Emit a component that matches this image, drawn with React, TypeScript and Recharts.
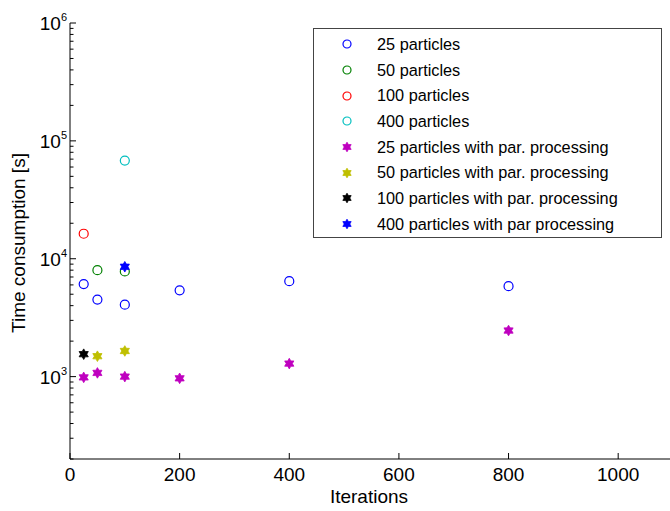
import React from 'react';
import { ScatterChart, Scatter, XAxis, YAxis, Legend } from 'recharts';

// iterations (x) and time in seconds (y) per series
const iters25 = [25, 50, 100, 200, 400, 800];
const time25 = [6100, 4500, 4080, 5400, 6450, 5850];
const iters50 = [50, 100];
const time50 = [8000, 7800];
const iters100 = [25];
const time100 = [16300];
const iters400 = [100];
const time400 = [68000];
const iters25par = [25, 50, 100, 200, 400, 800];
const time25par = [985, 1075, 1000, 967, 1290, 2460];
const iters50par = [50, 100];
const time50par = [1490, 1650];
const iters100par = [25];
const time100par = [1550];
const iters400par = [100];
const time400par = [8550];

const xTicks = [0, 200, 400, 600, 800, 1000];
const yDecades = [100, 1000, 10000, 100000];
const minorSteps = [2, 3, 4, 5, 6, 7, 8, 9];

const FONT = '"Liberation Sans", Arial, sans-serif';

type Kind = 'circle' | 'star';

const zip = (xs: number[], ys: number[]) => xs.map((x, i) => ({ x, y: ys[i] }));

const series = [
  { name: '25 particles', data: zip(iters25, time25), color: '#0000ff', kind: 'circle' as Kind },
  { name: '50 particles', data: zip(iters50, time50), color: '#008000', kind: 'circle' as Kind },
  { name: '100 particles', data: zip(iters100, time100), color: '#ff0000', kind: 'circle' as Kind },
  { name: '400 particles', data: zip(iters400, time400), color: '#00bfbf', kind: 'circle' as Kind },
  { name: '25 particles with par. processing', data: zip(iters25par, time25par), color: '#bf00bf', kind: 'star' as Kind },
  { name: '50 particles with par. processing', data: zip(iters50par, time50par), color: '#bfbf00', kind: 'star' as Kind },
  { name: '100 particles with par. processing', data: zip(iters100par, time100par), color: '#000000', kind: 'star' as Kind },
  { name: '400 particles with par processing', data: zip(iters400par, time400par), color: '#0000ff', kind: 'star' as Kind },
];

// log axis ticks: decades get labels, the rest are minor marks
const yTicks: number[] = [];
yDecades.forEach((d) => {
  minorSteps.forEach((m) => {
    if (d * m >= 200) yTicks.push(d * m);
  });
  yTicks.push(d * 10);
});

const hexagram = (cx: number, cy: number, R: number) => {
  const r = R * 0.58;
  const pts: string[] = [];
  for (let i = 0; i < 12; i++) {
    const a = -Math.PI / 2 + (i * Math.PI) / 6;
    const rad = i % 2 === 0 ? R : r;
    pts.push(`${cx + rad * Math.cos(a)},${cy + rad * Math.sin(a)}`);
  }
  return pts.join(' ');
};

const Marker = ({ cx, cy, color, kind, size }: { cx: number; cy: number; color: string; kind: Kind; size: number }) => {
  if (kind === 'circle') {
    return <circle cx={cx} cy={cy} r={size} fill="none" stroke={color} strokeWidth={1.2} />;
  }
  return <polygon points={hexagram(cx, cy, size + 0.8)} fill={color} stroke={color} strokeWidth={0.8} />;
};

const YTick = ({ x, y, payload }: any) => {
  const v = payload.value;
  const exp = Math.round(Math.log10(v));
  const major = Math.abs(Math.pow(10, exp) - v) < v * 1e-6;
  return (
    <g>
      <line x1={x} x2={x + (major ? 6 : 3.5)} y1={y} y2={y} stroke="#000" />
      {major && (
        <text x={x - 3} y={y + 7} textAnchor="end" fontSize={19} fontFamily={FONT} fill="#000">
          10
          <tspan dy={-9} fontSize={11}>{exp}</tspan>
        </text>
      )}
    </g>
  );
};

const XTick = ({ x, y, payload }: any) => (
  <g>
    <line x1={x} x2={x} y1={y} y2={y - 6} stroke="#000" />
    <text x={x} y={y + 22} textAnchor="middle" fontSize={19} fontFamily={FONT} fill="#000">
      {payload.value}
    </text>
  </g>
);

const renderLegend = () => (
  <div
    style={{
      width: 349,
      height: 210,
      boxSizing: 'border-box',
      border: '1px solid #444',
      background: '#fff',
      paddingTop: 2.5,
      fontFamily: FONT,
      fontSize: 16.3,
      color: '#000',
    }}
  >
    {series.map((s) => (
      <div key={s.name} style={{ display: 'flex', alignItems: 'center', height: 25.7 }}>
        <svg width={63} height={20} style={{ flex: 'none' }}>
          <Marker cx={33} cy={10} color={s.color} kind={s.kind} size={4} />
        </svg>
        <span style={{ whiteSpace: 'nowrap' }}>{s.name}</span>
      </div>
    ))}
  </div>
);

export default function App() {
  return (
    <div style={{ position: 'absolute', left: 0, top: 0, width: 670, height: 511, overflow: 'hidden', background: '#fff' }}>
      <ScatterChart width={674} height={511} margin={{ top: 23, right: 1, bottom: 0, left: 0 }}>
        <XAxis
          type="number"
          dataKey="x"
          domain={[0, 1100]}
          ticks={xTicks}
          interval={0}
          height={52}
          tickSize={0}
          tickMargin={0}
          tick={<XTick />}
          axisLine={{ stroke: '#000' }}
          label={{
            content: ({ viewBox }: any) => (
              <text x={369} y={viewBox.y + 44} textAnchor="middle" fontSize={19} fontFamily={FONT} fill="#000">
                Iterations
              </text>
            ),
          }}
        />
        <YAxis
          type="number"
          dataKey="y"
          scale="log"
          domain={[200, 1000000]}
          allowDataOverflow
          ticks={yTicks}
          interval={0}
          width={70}
          tickSize={0}
          tickMargin={0}
          tick={<YTick />}
          axisLine={{ stroke: '#000' }}
          label={{
            content: ({ viewBox }: any) => {
              const cy = viewBox.y + viewBox.height / 2 + 2;
              return (
                <text
                  x={25}
                  y={cy}
                  transform={`rotate(-90, 25, ${cy})`}
                  textAnchor="middle"
                  fontSize={19}
                  fontFamily={FONT}
                  fill="#000"
                >
                  Time consumption [s]
                </text>
              );
            },
          }}
        />
        <Legend
          layout="vertical"
          align="center"
          verticalAlign="middle"
          content={renderLegend}
          wrapperStyle={{ left: 313, top: 28, width: 349, height: 210 }}
        />
        {series.map((s) => (
          <Scatter
            key={s.name}
            name={s.name}
            data={s.data}
            fill={s.color}
            isAnimationActive={false}
            shape={(p: any) => <Marker cx={p.cx} cy={p.cy} color={s.color} kind={s.kind} size={4.5} />}
          />
        ))}
      </ScatterChart>
    </div>
  );
}
